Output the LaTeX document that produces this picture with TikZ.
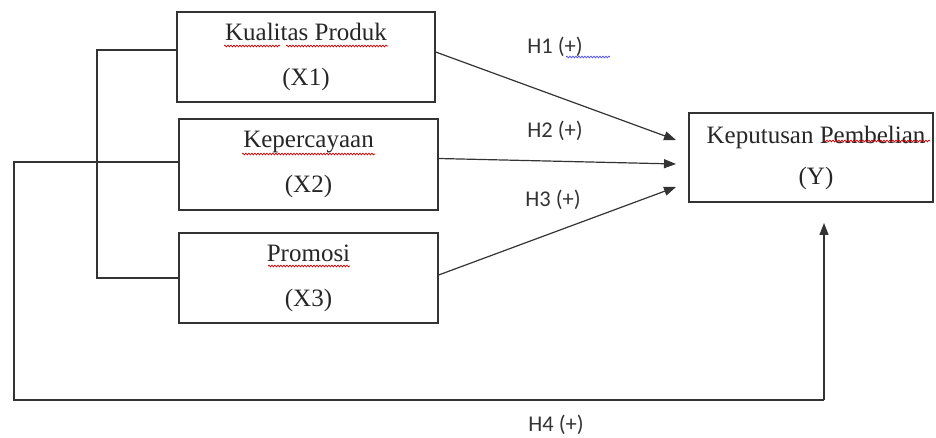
\documentclass[tikz,border=0pt]{standalone}
\usepackage{fontspec}
\setmainfont{Liberation Serif}
\newfontfamily\lblfont{Carlito}
\usetikzlibrary{arrows.meta,decorations.pathmorphing}
\definecolor{ink}{HTML}{333333}
\begin{document}
\begin{tikzpicture}[x=1pt,y=1pt,
  box/.style={draw=ink,line width=1.3pt,inner sep=0pt,align=center,
    font=\fontsize{25}{30}\selectfont,text=black!85},
  line/.style={draw=ink,line width=1.2pt},
  arr/.style={line,-{Triangle[length=12pt,width=9pt]}},
  hlbl/.style={font=\lblfont\fontsize{22.5}{25}\selectfont,text=ink,inner sep=0pt},
  squig/.style={draw=red!80!black,line width=0.7pt,decorate,
    decoration={snake,amplitude=0.9pt,segment length=3pt}},
  squigb/.style={draw=blue!70,line width=0.7pt,decorate,
    decoration={snake,amplitude=0.9pt,segment length=3pt}}]
\useasboundingbox (0,0) rectangle (936,-438);
% boxes
\node[box,minimum width=258pt,minimum height=90pt] (x1) at (306,-57)
  {\raisebox{-3pt}{Kualitas Produk}\\[15pt]\raisebox{-3pt}{(X1)}};
\node[box,minimum width=259pt,minimum height=91pt] (x2) at (308.5,-164.5)
  {\raisebox{-2pt}{Kepercayaan}\\[15pt]\raisebox{-2pt}{(X2)}};
\node[box,minimum width=259pt,minimum height=90pt] (x3) at (308.5,-278)
  {\raisebox{-2pt}{Promosi}\\[15pt]\raisebox{-2pt}{(X3)}};
\node[box,minimum width=244pt,minimum height=89pt] (y) at (811,-157.5)
  {\hspace*{10pt}Keputusan Pembelian\\[11pt]\hspace*{10pt}(Y)};
% bracket joining X1 and X3
\coordinate (b1) at (97,-50);
\coordinate (b3) at (97,-278);
\draw[line] (x1.west |- b1) -- (b1) -- (b3) -- (x3.west |- b3);
% H4 loop from X2 to Y
\coordinate (l1) at (14,-162);
\coordinate (l2) at (14,-400);
\coordinate (l3) at (824,-400);
\coordinate (l4) at (824,-223);
\draw[line] (x2.west |- l1) -- (l1) -- (l2) -- (l3);
\draw[arr] (l3) -- (l4);
% arrows to Y
\coordinate (t1) at (676,-140);
\coordinate (t2) at (676,-164);
\coordinate (t3) at (676,-187);
\draw[arr] ([yshift=5pt]x1.east) -- (t1);
\draw[arr] ([yshift=6pt]x2.east) -- (t2);
\draw[arr] ([yshift=3pt]x3.east) -- (t3);
% labels
\node[hlbl] (h1) at (555,-47) {H1 (+)};
\node[hlbl] (h2) at (555,-131) {H2 (+)};
\node[hlbl] (h3) at (553,-200) {H3 (+)};
\node[hlbl] (h4) at (556,-425) {H4 (+)};
% spell-check squiggles
\draw[squigb] (566,-57) -- (610,-57);
\draw[squig] (224,-46) -- (280,-46);
\draw[squig] (286,-46) -- (388,-46);
\draw[squig] (242,-154) -- (375,-154);
\draw[squig] (268,-266) -- (350,-266);
\draw[squig] (823,-141) -- (930,-141);
\end{tikzpicture}
\end{document}
